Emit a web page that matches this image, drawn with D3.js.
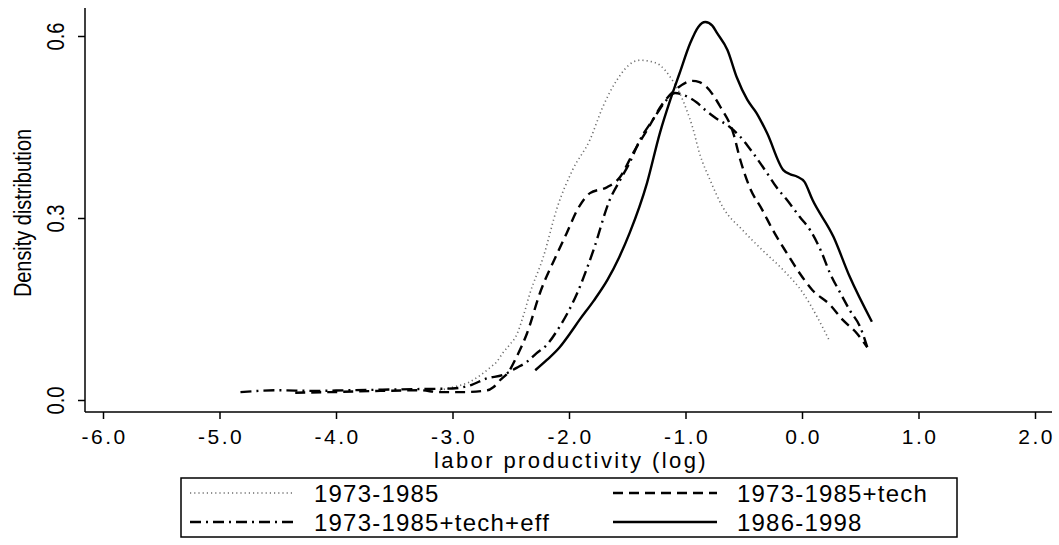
<!DOCTYPE html>
<html>
<head>
<meta charset="utf-8">
<script src="https://cdn.jsdelivr.net/npm/d3@7"></script>
<style>
body{margin:0;background:#fff;}
svg{display:block;font-family:"Liberation Sans",Arial,sans-serif;}
</style>
</head>
<body>
<svg id="chart" width="1059" height="545"></svg>
<script>
// tick values
var xTicks = [-6, -5, -4, -3, -2, -1, 0, 1, 2],
  yTicks = [0, 0.3, 0.6];

// legend labels
var seriesNames = ["1973-1985", "1973-1985+tech", "1973-1985+tech+eff", "1986-1998"];

// kernel densities: [log productivity, density]
var dens7385 = [[-3.11,0.016],[-3.0,0.021],[-2.85,0.030],[-2.76,0.041],[-2.68,0.053],[-2.62,0.063],
  [-2.57,0.077],[-2.51,0.091],[-2.45,0.107],[-2.39,0.14],[-2.335,0.176],[-2.22,0.236],[-2.10,0.318],
  [-1.97,0.379],[-1.82,0.429],[-1.71,0.483],[-1.59,0.527],[-1.45,0.557],[-1.39,0.560],[-1.30,0.558],
  [-1.22,0.552],[-1.13,0.532],[-1.05,0.506],[-0.99,0.478],[-0.94,0.450],[-0.88,0.407],[-0.79,0.363],
  [-0.68,0.318],[-0.51,0.280],[-0.34,0.247],[-0.16,0.214],[0.01,0.176],[0.13,0.137],[0.24,0.096]];

var dens7385tech = [[-4.35,0.012],[-4.05,0.013],[-3.62,0.015],[-3.28,0.016],[-3.11,0.013],[-2.91,0.013],
  [-2.70,0.016],[-2.65,0.021],[-2.59,0.033],[-2.52,0.046],[-2.45,0.071],[-2.36,0.110],[-2.25,0.176],
  [-2.10,0.242],[-2.02,0.275],[-1.93,0.313],[-1.82,0.341],[-1.67,0.351],[-1.56,0.368],[-1.45,0.407],
  [-1.33,0.445],[-1.19,0.490],[-1.07,0.514],[-0.94,0.526],[-0.88,0.524],[-0.82,0.516],[-0.70,0.483],
  [-0.59,0.440],[-0.53,0.396],[-0.45,0.351],[-0.34,0.313],[-0.25,0.280],[-0.13,0.242],[-0.02,0.209],
  [0.09,0.181],[0.24,0.157],[0.35,0.132],[0.47,0.110],[0.56,0.087]];

var dens7385techEff = [[-4.82,0.013],[-4.5,0.016],[-4.2,0.015],[-3.9,0.016],[-3.6,0.017],[-3.3,0.018],
  [-3.0,0.019],[-2.85,0.024],[-2.70,0.036],[-2.57,0.041],[-2.45,0.053],[-2.36,0.063],[-2.28,0.077],
  [-2.19,0.091],[-2.10,0.115],[-1.93,0.176],[-1.79,0.247],[-1.65,0.330],[-1.56,0.363],[-1.48,0.391],
  [-1.39,0.429],[-1.28,0.462],[-1.16,0.495],[-1.09,0.506],[-1.02,0.503],[-0.90,0.490],[-0.83,0.478],
  [-0.75,0.466],[-0.62,0.450],[-0.53,0.434],[-0.42,0.407],[-0.30,0.374],[-0.22,0.351],[-0.13,0.330],
  [-0.02,0.302],[0.07,0.280],[0.16,0.247],[0.24,0.209],[0.33,0.176],[0.41,0.148],[0.50,0.120],[0.56,0.087]];

var dens8698 = [[-2.29,0.049],[-2.19,0.066],[-2.08,0.087],[-1.99,0.110],[-1.91,0.132],[-1.79,0.163],
  [-1.67,0.198],[-1.57,0.235],[-1.48,0.275],[-1.33,0.358],[-1.22,0.440],[-1.13,0.495],[-1.05,0.539],
  [-0.96,0.588],[-0.89,0.615],[-0.83,0.623],[-0.77,0.617],[-0.73,0.605],[-0.64,0.577],[-0.56,0.532],
  [-0.47,0.495],[-0.39,0.473],[-0.30,0.440],[-0.16,0.379],[-0.10,0.372],[-0.04,0.368],[0.02,0.360],
  [0.09,0.330],[0.27,0.269],[0.41,0.203],[0.60,0.129]];

var styles = [
  {stroke: "#6e6e6e", width: 1.6, dash: "1.2,3"},
  {stroke: "#000", width: 2.4, dash: "10,6"},
  {stroke: "#000", width: 2.4, dash: "11,5,2,5"},
  {stroke: "#000", width: 2.4, dash: null}
];

var series = [dens7385, dens7385tech, dens7385techEff, dens8698].map(function(values, i){
  return {name: seriesNames[i], values: values, style: styles[i]};
});

var svg = d3.select("#chart");

var x = d3.scaleLinear().domain([-6, 2]).range([103, 1035]),
  y = d3.scaleLinear().domain([0, 0.6]).range([400, 36]);

var fmt = function(d){ return d.toFixed(1); };

// axis frame
svg.append("line").attr("x1", 85).attr("x2", 85).attr("y1", 8).attr("y2", 412)
  .attr("stroke", "#000").attr("stroke-width", 1.5);
svg.append("line").attr("x1", 85).attr("x2", 1052).attr("y1", 412).attr("y2", 412)
  .attr("stroke", "#000").attr("stroke-width", 1.5);

// x axis
var gx = svg.append("g")
  .attr("transform", "translate(0,412)")
  .call(d3.axisBottom(x).tickValues(xTicks).tickFormat(fmt).tickSize(7).tickPadding(10));
gx.select(".domain").remove();
gx.selectAll(".tick line").attr("stroke-width", 1.5);
gx.selectAll(".tick text")
  .attr("font-size", 21)
  .attr("font-family", "Liberation Sans, Arial, sans-serif")
  .attr("letter-spacing", "2.5px")
  .attr("dx", 1.2)
  .attr("fill", "#000");

// y axis
var gy = svg.append("g")
  .attr("transform", "translate(85,0)")
  .call(d3.axisLeft(y).tickValues(yTicks).tickFormat(fmt).tickSize(7));
gy.select(".domain").remove();
gy.selectAll(".tick line").attr("stroke-width", 1.5);
gy.selectAll(".tick text").remove();
gy.selectAll(".tick").append("text")
  .attr("transform", "translate(-21,0) rotate(-90) scale(0.88,1)")
  .attr("text-anchor", "middle")
  .attr("font-size", 23)
  .attr("font-family", "Liberation Sans, Arial, sans-serif")
  .attr("fill", "#000")
  .text(fmt);

// axis titles
svg.append("text")
  .attr("transform", "translate(31,213) rotate(-90) scale(0.83,1)")
  .attr("text-anchor", "middle")
  .attr("font-size", 24)
  .text("Density distribution");

svg.append("text")
  .attr("x", 571).attr("y", 468)
  .attr("text-anchor", "middle")
  .attr("font-size", 22)
  .attr("letter-spacing", "2.4px")
  .text("labor productivity (log)");

// density curves
var line = d3.line()
  .x(function(d){ return x(d[0]); })
  .y(function(d){ return y(d[1]); })
  .curve(d3.curveMonotoneX);

svg.append("g").selectAll("path")
  .data(series)
  .enter().append("path")
  .attr("d", function(d){ return line(d.values); })
  .attr("fill", "none")
  .attr("stroke", function(d){ return d.style.stroke; })
  .attr("stroke-width", function(d){ return d.style.width; })
  .attr("stroke-dasharray", function(d){ return d.style.dash; })
  .attr("stroke-linejoin", "round");

// legend
var legend = svg.append("g");
legend.append("rect")
  .attr("x", 181).attr("y", 478).attr("width", 776).attr("height", 59)
  .attr("fill", "none").attr("stroke", "#000").attr("stroke-width", 1.5);

// order in box: left column dotted / dash-dot, right column dashed / solid
var slots = [{col: 0, row: 0}, {col: 1, row: 0}, {col: 0, row: 1}, {col: 1, row: 1}],
  colX = [190, 613],
  rowY = [493, 522];

var item = legend.selectAll(".item")
  .data(series)
  .enter().append("g")
  .attr("class", "item")
  .attr("transform", function(d, i){
    return "translate(" + colX[slots[i].col] + "," + rowY[slots[i].row] + ")";
  });

item.append("line")
  .attr("x1", 0).attr("x2", 104).attr("y1", 0).attr("y2", 0)
  .attr("stroke", function(d){ return d.style.stroke; })
  .attr("stroke-width", function(d){ return d.style.width; })
  .attr("stroke-dasharray", function(d){ return d.style.dash; });

item.append("text")
  .attr("x", 124).attr("y", 8.5)
  .attr("font-size", 24)
  .attr("letter-spacing", "1.2px")
  .text(function(d){ return d.name; });
</script>
</body>
</html>
